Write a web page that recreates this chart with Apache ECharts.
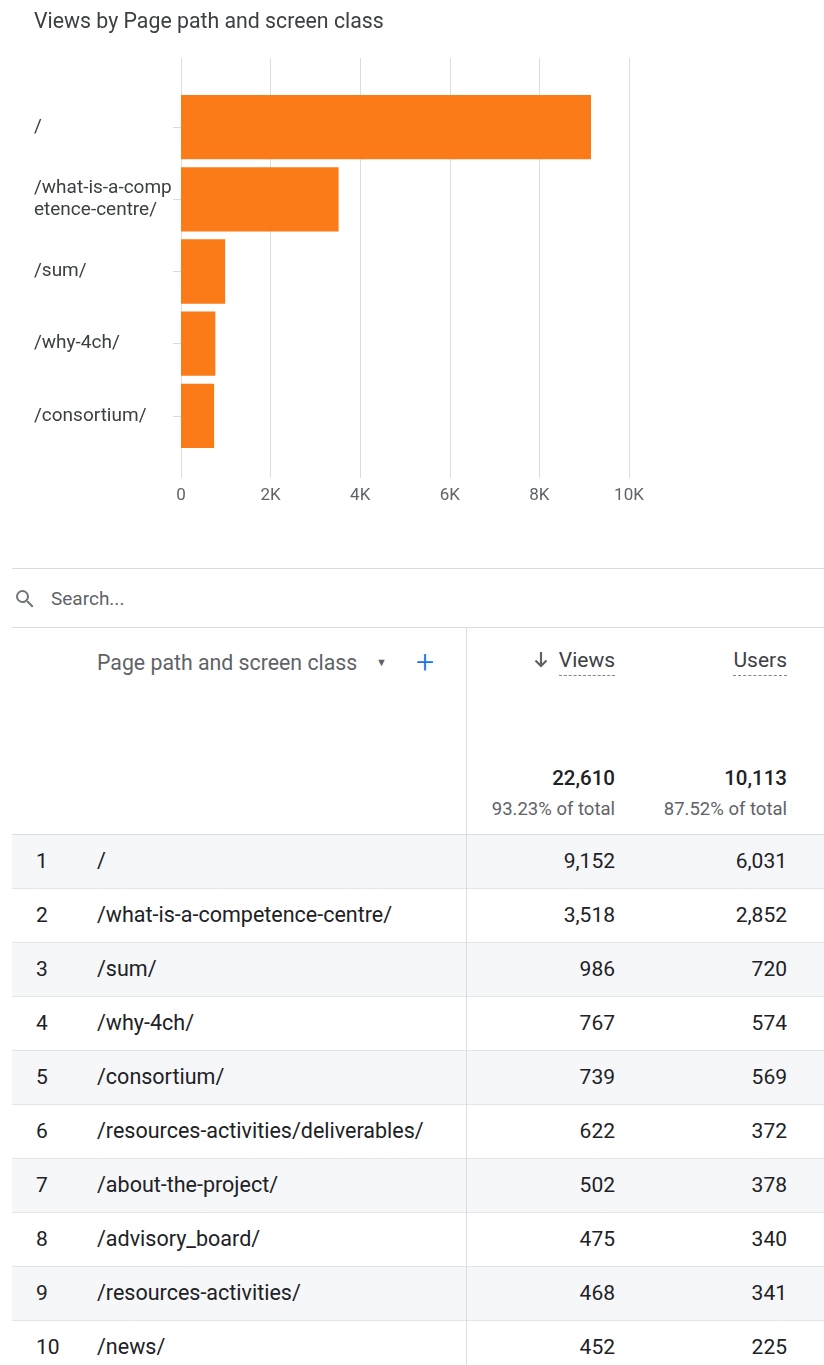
<!DOCTYPE html>
<html>
<head>
<meta charset="utf-8">
<script src="https://cdn.jsdelivr.net/npm/echarts@6/dist/echarts.min.js"></script>
<style>
  body { margin: 0; background: #fff; font-family: Roboto, "Noto Sans", sans-serif; }
  #page { position: relative; width: 824px; height: 1365px; overflow: hidden; }
  #main { position: absolute; left: 0; top: 0; width: 824px; height: 540px; }
  .abs { position: absolute; white-space: nowrap; }
  .line { position: absolute; background: #dadce0; }
</style>
</head>
<body>
<div id="page">
  <div id="main"></div>
  <div id="table"></div>
</div>
<script>
// chart + table data
var pages = ['/', '/what-is-a-competence-centre/', '/sum/', '/why-4ch/', '/consortium/',
  '/resources-activities/deliverables/', '/about-the-project/', '/advisory_board/',
  '/resources-activities/', '/news/'];
var views = [9152, 3518, 986, 767, 739, 622, 502, 475, 468, 452];
var users = [6031, 2852, 720, 574, 569, 372, 378, 340, 341, 225];
var totals = { views: '22,610', users: '10,113' };
var totalPct = { views: '93.23% of total', users: '87.52% of total' };
var xTicks = [0, 2000, 4000, 6000, 8000, 10000];

var chartPages = pages.slice(0, 5);
var chartViews = views.slice(0, 5);

var myChart = echarts.init(document.getElementById('main'));

option = {
    animation: false,
    title: {
        text: 'Views by Page path and screen class',
        left: 34,
        top: 12,
        padding: 0,
        textStyle: { fontFamily: 'Roboto', fontSize: 21.3, fontWeight: 'normal', color: '#3c4043' }
    },
    grid: [
        { left: 181, width: 448, top: 91, height: 361 },
        { left: 181, width: 448, top: 58, height: 420 }
    ],
    xAxis: [{
        gridIndex: 0,
        type: 'value',
        min: 0,
        max: 10000,
        show: false
    }, {
        gridIndex: 1,
        type: 'value',
        min: xTicks[0],
        max: xTicks[xTicks.length - 1],
        interval: 2000,
        axisLine: { show: false },
        axisTick: { show: false },
        splitLine: { show: true, lineStyle: { color: '#dadce0', width: 1 } },
        axisLabel: {
            margin: 9,
            fontFamily: 'Roboto',
            fontSize: 17,
            color: '#5f6368',
            formatter: function (v) { return v === 0 ? '0' : (v / 1000) + 'K'; }
        }
    }],
    yAxis: [{
        gridIndex: 0,
        type: 'category',
        inverse: true,
        data: chartPages,
        axisLine: { show: false },
        axisTick: { show: true, alignWithLabel: true, length: 8, lineStyle: { color: '#dadce0' } },
        axisLabel: {
            align: 'left',
            margin: 147,
            width: 143,
            overflow: 'breakAll',
            lineHeight: 22,
            fontFamily: 'Roboto',
            fontSize: 19,
            color: '#3c4043'
        }
    }, {
        gridIndex: 1,
        type: 'category',
        data: chartPages,
        show: false
    }],
    series: [{
        name: 'Views',
        type: 'bar',
        xAxisIndex: 0,
        yAxisIndex: 0,
        data: chartViews,
        barCategoryGap: '11%',
        itemStyle: { color: '#fa7b17' }
    }]
};

myChart.setOption(option);

// table below the chart
function fmt(n) { return n.toLocaleString('en-US'); }

var html = '';
html += '<div class="line" style="left:12px;right:0;top:568px;height:1px"></div>';
html += '<svg class="abs" style="left:13px;top:587px" width="24" height="24" viewBox="0 0 24 24">' +
    '<path fill="#70757a" d="M15.5 14h-.79l-.28-.27A6.47 6.47 0 0 0 16 9.5 6.5 6.5 0 1 0 9.5 16c1.61 0 3.09-.59 4.23-1.57l.27.28v.79l5 4.99L20.49 19l-4.99-5zm-6 0C7.01 14 5 11.99 5 9.5S7.01 5 9.5 5 14 7.01 14 9.5 11.99 14 9.5 14z"/></svg>';
html += '<div class="abs" style="left:51px;top:587px;font-size:19px;line-height:24px;color:#5f6368">Search...</div>';
html += '<div class="line" style="left:12px;right:0;top:627px;height:1px"></div>';

// header
html += '<div class="abs" style="left:97px;top:650px;font-size:21.3px;line-height:26px;color:#5f6368">Page path and screen class</div>';
html += '<div class="abs" style="left:376px;top:652px;font-size:11px;line-height:22px;color:#5f6368">&#9660;</div>';
html += '<div class="abs" style="left:416px;top:645px;font-size:32px;line-height:34px;color:#1a73e8;font-weight:300">+</div>';
html += '<svg class="abs" style="left:533px;top:651px" width="16" height="18" viewBox="0 0 16 18">' +
    '<path d="M8 1v14M2.5 9.5L8 15l5.5-5.5" stroke="#5f6368" stroke-width="2.2" fill="none"/></svg>';
html += '<div class="abs" style="right:209px;top:647px;font-size:21px;line-height:26px;color:#3c4043;border-bottom:1px dashed #80868b;padding-bottom:2px">Views</div>';
html += '<div class="abs" style="right:37px;top:647px;font-size:21px;line-height:26px;color:#3c4043;border-bottom:1px dashed #80868b;padding-bottom:2px">Users</div>';

// totals
html += '<div class="abs" style="right:209px;top:765px;font-size:20.5px;line-height:26px;color:#202124;font-weight:500">' + totals.views + '</div>';
html += '<div class="abs" style="right:37px;top:765px;font-size:20.5px;line-height:26px;color:#202124;font-weight:500">' + totals.users + '</div>';
html += '<div class="abs" style="right:209px;top:797px;font-size:18.5px;line-height:24px;color:#5f6368">' + totalPct.views + '</div>';
html += '<div class="abs" style="right:37px;top:797px;font-size:18.5px;line-height:24px;color:#5f6368">' + totalPct.users + '</div>';
html += '<div class="line" style="left:12px;right:0;top:834px;height:1px"></div>';

// rows
for (var i = 0; i < pages.length; i++) {
    var rowTop = 835 + 54 * i;
    var bg = (i % 2 === 0) ? '#f6f7f9' : '#ffffff';
    html += '<div class="abs" style="left:12px;right:0;top:' + rowTop + 'px;height:53px;background:' + bg + ';border-bottom:1px solid #e3e5e8"></div>';
    var ty = rowTop + 13;
    html += '<div class="abs" style="left:36px;top:' + ty + 'px;font-size:21px;line-height:26px;color:#202124">' + (i + 1) + '</div>';
    html += '<div class="abs" style="left:97px;top:' + ty + 'px;font-size:21.5px;line-height:26px;color:#202124">' + pages[i] + '</div>';
    html += '<div class="abs" style="right:209px;top:' + ty + 'px;font-size:21px;line-height:26px;color:#202124">' + fmt(views[i]) + '</div>';
    html += '<div class="abs" style="right:37px;top:' + ty + 'px;font-size:21px;line-height:26px;color:#202124">' + fmt(users[i]) + '</div>';
}
html += '<div class="line" style="left:466px;width:1px;top:627px;bottom:0"></div>';
document.getElementById('table').innerHTML = html;
</script>
</body>
</html>
